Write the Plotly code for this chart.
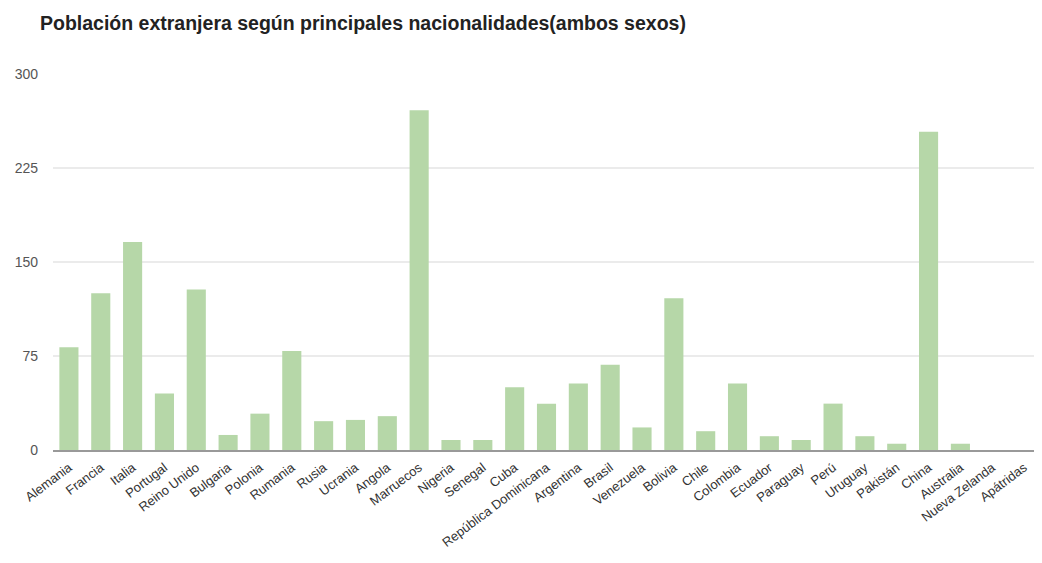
import plotly.graph_objects as go

countries = ["Alemania", "Francia", "Italia", "Portugal", "Reino Unido", "Bulgaria", "Polonia",
             "Rumania", "Rusia", "Ucrania", "Angola", "Marruecos", "Nigeria", "Senegal", "Cuba",
             "República Dominicana", "Argentina", "Brasil", "Venezuela", "Bolivia", "Chile",
             "Colombia", "Ecuador", "Paraguay", "Perú", "Uruguay", "Pakistán", "China",
             "Australia", "Nueva Zelanda", "Apátridas"]
values = [82, 125, 166, 45, 128, 12, 29, 79, 23, 24, 27, 271, 8, 8, 50,
          37, 53, 68, 18, 121, 15, 53, 11, 8, 37, 11, 5, 254, 5, 0, 0]
y_ticks = [0, 75, 150, 225, 300]

fig = go.Figure(go.Bar(x=countries, y=values, marker_color="#b6d7a8",
                       marker_line_width=0))

fig.update_layout(
    width=1034, height=555,
    paper_bgcolor="white", plot_bgcolor="white",
    margin=dict(l=45, r=2, t=66, b=113, autoexpand=False),
    bargap=0.4,
    showlegend=False,
    title=dict(text="<b>Población extranjera según principales nacionalidades(ambos sexos)</b>",
               x=32 / 1034, xanchor="left", xref="container",
               y=1 - 15 / 555, yanchor="middle", yref="container",
               font=dict(family="Liberation Sans, Arial, sans-serif",
                         size=19.5, color="#222222")),
    font=dict(family="Liberation Sans, Arial, sans-serif"),
)
fig.update_yaxes(range=[0, 300], tickvals=y_ticks, showgrid=True, gridcolor="#ebebeb",
                 gridwidth=1.5, zeroline=False, showline=False, ticks="",
                 tickfont=dict(size=14, color="#555555",
                               family="Liberation Sans, Arial, sans-serif"),
                 ticklabelstandoff=14)
fig.update_xaxes(tickangle=-37, showline=True, linecolor="#999999", linewidth=2,
                 ticks="", ticklabelstandoff=3,
                 tickfont=dict(size=13, color="#333333",
                               family="Liberation Sans, Arial, sans-serif"))

fig.write_html("out.html")
